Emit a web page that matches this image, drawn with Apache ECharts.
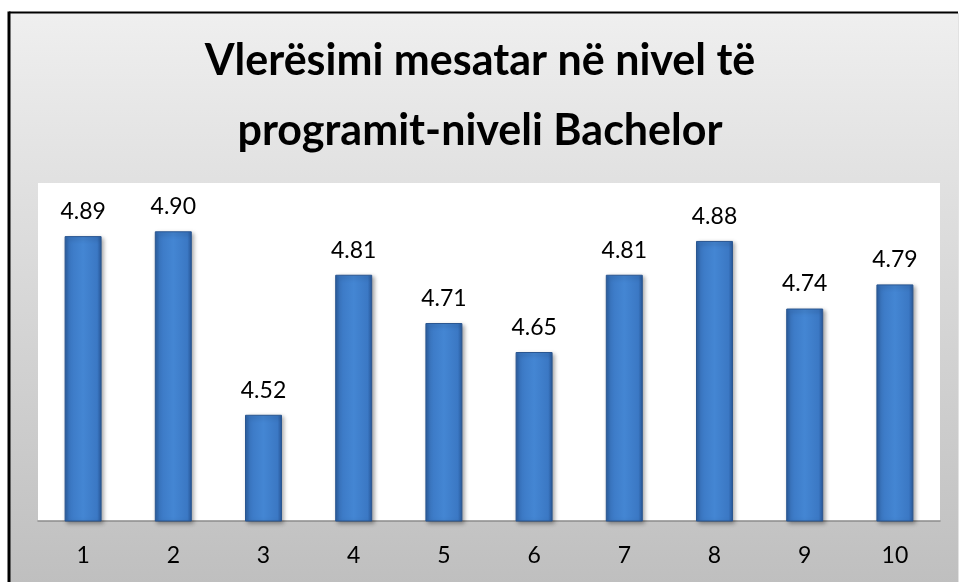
<!DOCTYPE html>
<html>
<head>
<meta charset="utf-8">
<script src="https://cdn.jsdelivr.net/npm/echarts@6/dist/echarts.min.js"></script>
<style>
  html, body { margin: 0; padding: 0; background: #fff; }
  #chart { width: 960px; height: 582px; }
</style>
</head>
<body>
<div id="chart"></div>
<script>
// data
var titleText = "Vlerësimi mesatar në nivel të\nprogramit-niveli Bachelor";
var categories = ["1", "2", "3", "4", "5", "6", "7", "8", "9", "10"];
var values = [4.89, 4.90, 4.52, 4.81, 4.71, 4.65, 4.81, 4.88, 4.74, 4.79];

var myChart = echarts.init(document.getElementById("chart"));
var font = "Lato, 'Liberation Sans', sans-serif";

var option = {
  backgroundColor: "#ffffff",
  animation: false,
  graphic: [
    {
      type: "rect",
      z: -10,
      shape: { x: 9, y: 12, width: 949, height: 572 },
      style: {
        fill: new echarts.graphic.LinearGradient(0, 0, 0, 1, [
          { offset: 0, color: "#efefef" },
          { offset: 1, color: "#bfbfbf" },
        ]),
      },
    },
    {
      type: "line",
      z: -9,
      shape: { x1: 958.5, y1: 13, x2: 958.5, y2: 584 },
      style: { stroke: "#e2e2e2", lineWidth: 1 },
    },
    {
      type: "line",
      z: -9,
      shape: { x1: 9, y1: 12.5, x2: 958, y2: 12.5 },
      style: { stroke: "#000", lineWidth: 2 },
    },
    {
      type: "line",
      z: -9,
      shape: { x1: 9, y1: 11.5, x2: 9, y2: 584 },
      style: { stroke: "#000", lineWidth: 3 },
    },
  ],
  title: {
    text: titleText,
    left: "center",
    top: 21,
    textStyle: {
      fontFamily: font,
      fontWeight: "bold",
      fontSize: 43,
      lineHeight: 70,
      color: "#000",
    },
  },
  grid: {
    show: true,
    backgroundColor: "#ffffff",
    borderWidth: 0,
    left: 38,
    right: 20,
    top: 183,
    bottom: 61,
  },
  xAxis: {
    type: "category",
    data: categories,
    axisLine: { lineStyle: { color: "#8c8c8c", width: 1.5 } },
    axisTick: { show: false },
    axisLabel: {
      margin: 23,
      fontFamily: font,
      fontSize: 23,
      color: "#000",
    },
  },
  yAxis: {
    type: "value",
    min: 4.3,
    max: 5.0,
    show: false,
    splitLine: { show: false },
  },
  series: [
    {
      type: "bar",
      data: values,
      barWidth: "41%",
      itemStyle: {
        color: new echarts.graphic.LinearGradient(0, 0, 1, 0, [
          { offset: 0, color: "#2b5e9f" },
          { offset: 0.12, color: "#3b78c4" },
          { offset: 0.5, color: "#4486d3" },
          { offset: 0.88, color: "#3b78c4" },
          { offset: 1, color: "#28589a" },
        ]),
        borderColor: "#2a5690",
        borderWidth: 1,
        shadowColor: "rgba(0,0,0,0.35)",
        shadowBlur: 4,
        shadowOffsetX: 2,
        shadowOffsetY: 2,
      },
      label: {
        show: true,
        position: "top",
        distance: 13,
        fontFamily: font,
        fontSize: 23,
        color: "#000",
        formatter: function (p) {
          return p.value.toFixed(2);
        },
      },
    },
  ],
};

myChart.setOption(option);
</script>
</body>
</html>
